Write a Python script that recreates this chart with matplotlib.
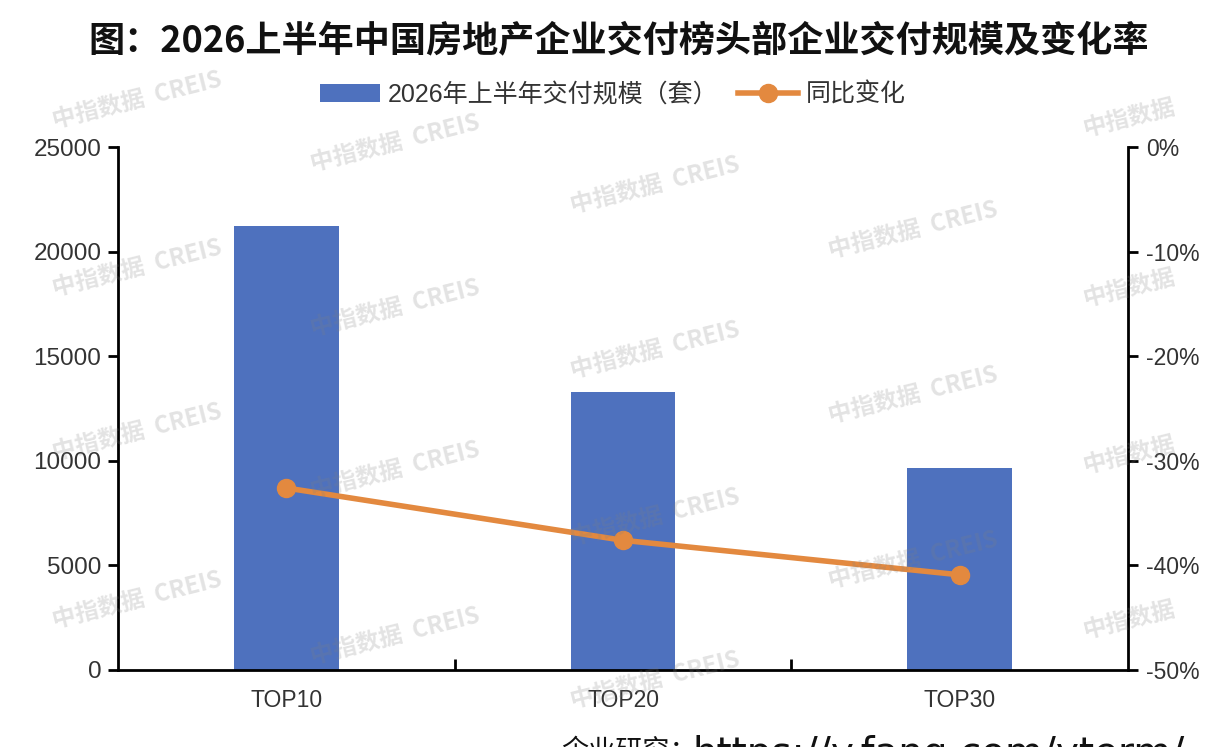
import matplotlib
matplotlib.use("Agg")
import matplotlib.pyplot as plt
from matplotlib.ticker import FuncFormatter, FixedLocator

# ---- data ----
categories = ["TOP10", "TOP20", "TOP30"]
delivery_units = [21200, 13300, 9650]          # 2026年上半年交付规模（套）
yoy_change = [-32.6, -37.6, -40.9]              # 同比变化 (%)
left_ticks = [0, 5000, 10000, 15000, 20000, 25000]
right_ticks = [0, -10, -20, -30, -40, -50]

title = "图：2026上半年中国房地产企业交付榜头部企业交付规模及变化率"
bar_label = "2026年上半年交付规模（套）"
line_label = "同比变化"
footer_cn = "企业研究："
footer_url = "https://y.fang.com/yterm/"

plt.rcParams['font.family'] = ['Liberation Sans', 'Noto Sans CJK SC', 'DejaVu Sans']

BLUE = "#4E71BE"
ORANGE = "#E3893F"
TEXT = "#333333"

W, H = 1227, 747
fig = plt.figure(figsize=(W / 100, H / 100), dpi=100)
ax = fig.add_axes([118 / W, 1 - 670 / H, (1128 - 118) / W, (670 - 147) / H])

x = list(range(len(categories)))
bars = ax.bar(x, delivery_units, width=0.31, color=BLUE, zorder=2)
ax.set_xlim(-0.5, len(categories) - 0.5)
ax.set_ylim(0, 25000)
ax.yaxis.set_major_locator(FixedLocator(left_ticks))
ax.set_xticks(x)
ax.set_xticklabels(categories)
ax.set_xticks([i + 0.5 for i in x[:-1]], minor=True)

for s in ["top", "right"]:
    ax.spines[s].set_visible(False)
for s in ["left", "bottom"]:
    ax.spines[s].set_linewidth(2.0)
    ax.spines[s].set_color("black")

ax.tick_params(axis='y', direction='out', length=7, width=2, labelsize=17.5,
               labelcolor=TEXT, pad=5)
ax.tick_params(axis='x', which='major', length=0, labelsize=16.5, labelcolor=TEXT, pad=14)
ax.tick_params(axis='x', which='minor', direction='in', length=8, width=2)

ax2 = ax.twinx()
ax2.set_ylim(-50, 0)
ax2.yaxis.set_major_locator(FixedLocator(right_ticks))
ax2.yaxis.set_major_formatter(FuncFormatter(lambda v, p: f"{int(round(v))}%"))
for s in ["top", "left", "bottom"]:
    ax2.spines[s].set_visible(False)
ax2.spines["right"].set_linewidth(2.0)
ax2.tick_params(axis='y', direction='out', length=7, width=2, labelsize=16.5,
                labelcolor=TEXT, pad=6)
line, = ax2.plot(x, yoy_change, color=ORANGE, lw=4, marker='o', markersize=13,
                 zorder=3)

fig.text(619 / W, 1 - 41 / H, title, ha='center', va='center', fontsize=26,
         fontweight='bold', color="#111111",
         family=['Noto Sans CJK SC', 'DejaVu Sans'])

fig.legend([bars, line], [bar_label, line_label], loc='center', ncol=2,
           bbox_to_anchor=(613 / W, 1 - 95 / H), frameon=False,
           prop={'size': 18, 'family': ['Liberation Sans', 'Noto Sans CJK SC']},
           handlelength=2.4, handleheight=0.75, handletextpad=0.3,
           columnspacing=0.8, labelcolor=TEXT)

fig.text(561 / W, 1 - 759 / H, footer_cn, ha='left', va='baseline', fontsize=19.5,
         color="#111111", family=['Noto Sans CJK SC', 'DejaVu Sans'])
fig.text(692 / W, 1 - 765 / H, footer_url, ha='left', va='baseline', fontsize=28,
         color="#111111", family=['DejaVu Sans'])

# ---- watermarks ----
wm_full = [(137, 100), (137, 268), (137, 432), (137, 600),
           (395, 143), (395, 308), (395, 470), (395, 636),
           (655, 185), (655, 350), (655, 517), (655, 680),
           (913, 230), (913, 395), (913, 560)]
wm_short = [(1130, 118), (1130, 288), (1130, 455), (1130, 620)]
for (px, py) in wm_full:
    fig.text(px / W, 1 - py / H, "中指数据  CREIS", ha='center', va='center',
             fontsize=17, rotation=14, color=(0.5, 0.5, 0.5), alpha=0.22,
             fontweight='bold', family=['Noto Sans CJK SC'], zorder=10)
for (px, py) in wm_short:
    fig.text(px / W, 1 - py / H, "中指数据", ha='center', va='center',
             fontsize=17, rotation=14, color=(0.5, 0.5, 0.5), alpha=0.22,
             fontweight='bold', family=['Noto Sans CJK SC'], zorder=10)

fig.savefig("out.png", dpi=100)
